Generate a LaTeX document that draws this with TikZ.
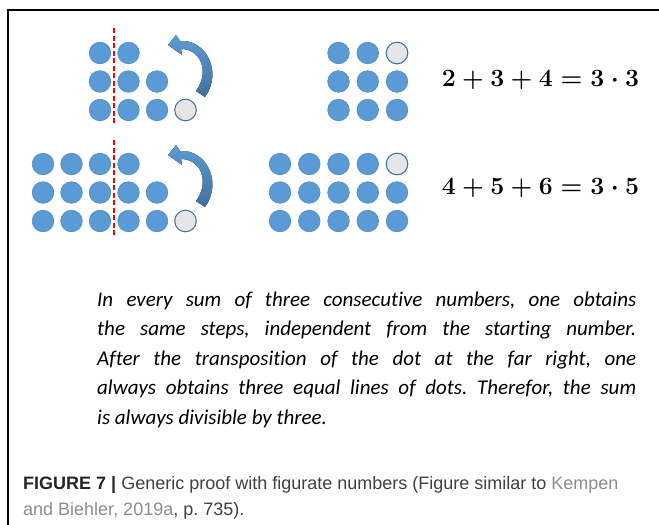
\documentclass[tikz,border=0pt]{standalone}
\usepackage{fontspec}
\newfontfamily\calibri[Ligatures=NoCommon]{Carlito}
\newfontfamily\captionfont{Liberation Sans}
\definecolor{dotblue}{HTML}{5B9BD5}
\definecolor{dotedge}{HTML}{4F8CC9}
\definecolor{spotgrey}{HTML}{E6E6E6}
\definecolor{spotedge}{HTML}{41719C}
\definecolor{arrowdark}{HTML}{41719C}
\definecolor{linkgrey}{HTML}{8C8C8C}
\frenchspacing

\begin{document}
\begin{tikzpicture}[x=1pt, y=-1pt,
  dot/.style={fill=dotblue, draw=dotedge, line width=0.6pt},
  spot/.style={fill=spotgrey, draw=spotedge, line width=1pt},
  cut/.style={red, dash pattern=on 5pt off 2.5pt, line width=2.2pt},
  turn/.style={top color=dotblue, bottom color=arrowdark, draw=none},
  sum/.style={font=\fontsize{23.5}{28}\selectfont\boldmath, anchor=base, inner sep=0pt},
  prose/.style={font=\fontsize{21}{29.5}\selectfont\calibri\itshape, anchor=base west, inner sep=0pt},
  capt/.style={font=\fontsize{18}{26}\selectfont\captionfont, anchor=base west, inner sep=0pt, text=black!75}]
\useasboundingbox (0,0) rectangle (659,525);
\draw[line width=1.2pt] (659,10) -- (8,10) -- (8,525);

% left column: dots before the move
\foreach \n [count=\r] in {2,3,3}
  \foreach \c in {1,...,\n}
    \draw[dot] ({100+28.5*(\c-1)},{53+28.5*(\r-1)}) circle (10.8);
\draw[spot] (185.5,110) circle (10.8);
\foreach \n [count=\r] in {4,5,5}
  \foreach \c in {1,...,\n}
    \draw[dot] ({43+28.5*(\c-1)},{164+28.5*(\r-1)}) circle (10.8);
\draw[spot] (185.5,221) circle (10.8);
\draw[cut] (114,28) -- (114,124);
\draw[cut] (114,140) -- (114,236);

% curved arrows
\foreach \dy in {0,110}
  \fill[turn, yshift=-\dy pt] (180,41) .. controls (206,39) and (223,72) .. (205,97)
    -- (196,91) .. controls (210,72) and (201,49) .. (181,49)
    -- (182,55) -- (168,45) -- (176,35) -- cycle;

% right column: dots after the move
\foreach \r in {1,2,3}
  \foreach \c in {3,4,5}
    \draw[dot] ({280+29.25*(\c-1)},{53+28.5*(\r-1)}) circle (10.8);
\draw[spot] (397,53) circle (10.8);
\foreach \r in {1,2,3}
  \foreach \c in {1,...,5}
    \draw[dot] ({280+29.25*(\c-1)},{164+28.5*(\r-1)}) circle (10.8);
\draw[spot] (397,164) circle (10.8);

\node[sum] (sumA) at (540.5,86) {$2+3+4=3\cdot3$};
\node[sum] (sumB) at (540.5,194) {$4+5+6=3\cdot5$};

% explanation
\node[prose] (l1) at (97,306) {\makebox[539pt][s]{In every sum of three consecutive numbers, one obtains}};
\node[prose] (l2) at (97,335.5) {\makebox[539pt][s]{the same steps, independent from the starting number.}};
\node[prose] (l3) at (97,365) {\makebox[539pt][s]{After the transposition of the dot at the far right, one}};
\node[prose] (l4) at (97,394.5) {\makebox[539pt][s]{always obtains three equal lines of dots. Therefor, the sum}};
\node[prose] (l5) at (97,424) {is always divisible by three.};

% caption
\node[capt] (c1) at (23,489) {\textbf{\color{black!85}FIGURE 7 |} Generic proof with figurate numbers (Figure similar to \textcolor{linkgrey}{Kempen}};
\node[capt] (c2) at (23,515) {\textcolor{linkgrey}{and Biehler, 2019a}, p. 735).};
\end{tikzpicture}
\end{document}
